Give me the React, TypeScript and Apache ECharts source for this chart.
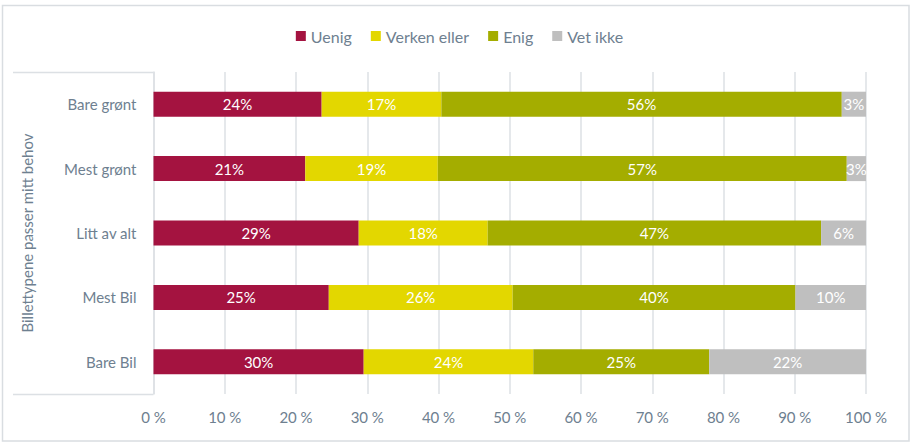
import React, { useEffect, useRef } from "react";
import * as echarts from "echarts";

const categories = ["Bare grønt", "Mest grønt", "Litt av alt", "Mest Bil", "Bare Bil"];
const uenig = [23.6, 21.3, 28.8, 24.6, 29.5];
const verken = [16.8, 18.6, 18.1, 25.8, 23.8];
const enig = [56.2, 57.4, 46.8, 39.7, 24.7];
const vetIkke = [3.4, 2.7, 6.3, 9.9, 22.0];
const seriesNames = ["Uenig", "Verken eller", "Enig", "Vet ikke"];
const colors = ["#A41340", "#E3D700", "#A4AD00", "#BFBFBF"];
const yTitle = "Billettypene passer mitt behov";

const FONT = "Lato, 'Open Sans', sans-serif";
const TEXT = "#6E8090";
const GRID = "#DCE0E4";

export default function App() {
  const ref = useRef<HTMLDivElement>(null);
  useEffect(() => {
    if (!ref.current) return;
    const chart = echarts.init(ref.current, null, { renderer: "svg" });
    const data = [uenig, verken, enig, vetIkke];
    chart.setOption({
      animation: false,
      backgroundColor: "#ffffff",
      textStyle: { fontFamily: FONT },
      legend: {
        top: 23,
        left: "center",
        icon: "rect",
        itemWidth: 10,
        itemHeight: 10,
        itemGap: 19,
        textStyle: { color: TEXT, fontSize: 16, fontFamily: FONT },
        data: seriesNames,
      },
      grid: { left: 153.5, right: 53, top: 72, bottom: 54, containLabel: false },
      xAxis: {
        type: "value",
        min: 0,
        max: 100,
        interval: 10,
        axisLine: { show: false },
        axisTick: { show: false },
        axisLabel: {
          formatter: "{value} %",
          color: TEXT,
          fontSize: 15,
          fontFamily: FONT,
          margin: 15,
        },
        splitLine: { show: true, lineStyle: { color: GRID, width: 1.5 } },
      },
      yAxis: {
        type: "category",
        data: categories,
        inverse: true,
        name: yTitle,
        nameLocation: "middle",
        nameRotate: 90,
        nameGap: 119,
        nameTextStyle: { color: TEXT, fontSize: 15, fontFamily: FONT },
        axisLine: { show: true, lineStyle: { color: GRID, width: 1.5 } },
        axisTick: { show: false },
        axisLabel: { color: TEXT, fontSize: 15, fontFamily: FONT, margin: 17 },
      },
      series: seriesNames.map((name, i) => ({
        name,
        type: "bar",
        stack: "total",
        barWidth: 25,
        itemStyle: { color: colors[i] },
        label: {
          show: true,
          position: "inside",
          color: "#ffffff",
          fontSize: 15,
          fontFamily: FONT,
          formatter: (p: any) => Math.round(p.value) + "%",
        },
        data: data[i],
      })),
      graphic: [
        {
          type: "rect",
          shape: { x: 2.5, y: 5.5, width: 906.5, height: 435.5 },
          style: { fill: "none", stroke: "#D9DDE1", lineWidth: 1.5 },
          silent: true,
        },
        {
          type: "line",
          shape: { x1: 13, y1: 72.5, x2: 153.5, y2: 72.5 },
          style: { stroke: GRID, lineWidth: 1.5 },
          silent: true,
        },
        {
          type: "line",
          shape: { x1: 13, y1: 394.5, x2: 153.5, y2: 394.5 },
          style: { stroke: GRID, lineWidth: 1.5 },
          silent: true,
        },
      ],
    });
    return () => chart.dispose();
  }, []);
  return (
    <div
      ref={ref}
      style={{ position: "fixed", left: 0, top: 0, width: 919, height: 448, background: "#fff" }}
    />
  );
}
